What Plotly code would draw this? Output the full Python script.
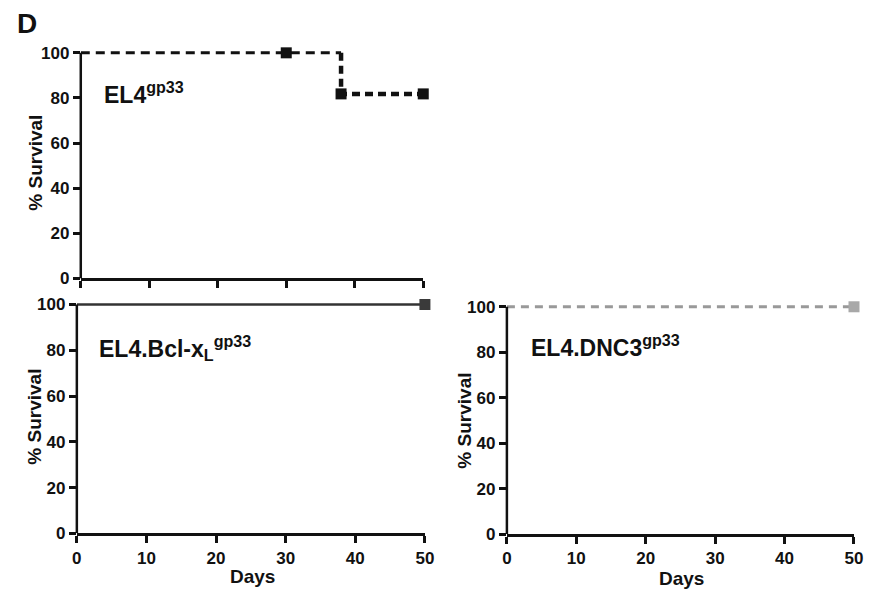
import plotly.graph_objects as go

W, H = 881, 600

# ---- data ----
x_ticks = [0, 10, 20, 30, 40, 50]
y_ticks = [0, 20, 40, 60, 80, 100]

# EL4gp33 Kaplan-Meier curve
el4_days = [0, 30, 38, 38, 50]
el4_surv = [100, 100, 100, 81.8, 81.8]
el4_censor_days = [30, 38, 50]
el4_censor_surv = [100, 81.8, 81.8]

# EL4.Bcl-xL gp33
bcl_days = [0, 50]
bcl_surv = [100, 100]
bcl_censor_days = [50]
bcl_censor_surv = [100]

# EL4.DNC3 gp33
dnc_days = [0, 50]
dnc_surv = [100, 100]
dnc_censor_days = [50]
dnc_censor_surv = [100]

FONT = "Liberation Sans, Arial, sans-serif"
Y_TOP = 102  # small headroom so the 100% lines are not clipped

def px_x(p):  # page pixel -> paper fraction
    return p / W

def px_y(p):
    return 1 - p / H

fig = go.Figure()

# top-left: EL4 -- first part (until drop) dashed, after drop thicker dotted
drop_idx = 3
fig.add_trace(go.Scatter(x=el4_days[:drop_idx], y=el4_surv[:drop_idx], mode="lines",
                         line=dict(color="#111111", width=3, dash="9px,6px"),
                         xaxis="x", yaxis="y", cliponaxis=False, showlegend=False))
fig.add_trace(go.Scatter(x=el4_days[drop_idx - 1:], y=el4_surv[drop_idx - 1:], mode="lines",
                         line=dict(color="#111111", width=4.5, dash="8px,5px"),
                         xaxis="x", yaxis="y", cliponaxis=False, showlegend=False))
fig.add_trace(go.Scatter(x=el4_censor_days, y=el4_censor_surv, mode="markers",
                         marker=dict(symbol="square", size=11, color="#111111"),
                         xaxis="x", yaxis="y", cliponaxis=False, showlegend=False))

# bottom-left: Bcl-xL
fig.add_trace(go.Scatter(x=bcl_days, y=bcl_surv, mode="lines",
                         line=dict(color="#333333", width=2.5),
                         xaxis="x2", yaxis="y2", cliponaxis=False, showlegend=False))
fig.add_trace(go.Scatter(x=bcl_censor_days, y=bcl_censor_surv, mode="markers",
                         marker=dict(symbol="square", size=11, color="#3a3a3a"),
                         xaxis="x2", yaxis="y2", cliponaxis=False, showlegend=False))

# bottom-right: DNC3
fig.add_trace(go.Scatter(x=dnc_days, y=dnc_surv, mode="lines",
                         line=dict(color="#999999", width=3, dash="8px,6px"),
                         xaxis="x3", yaxis="y3", cliponaxis=False, showlegend=False))
fig.add_trace(go.Scatter(x=dnc_censor_days, y=dnc_censor_surv, mode="markers",
                         marker=dict(symbol="square", size=11, color="#a8a8a8"),
                         xaxis="x3", yaxis="y3", cliponaxis=False, showlegend=False))

tickfont = dict(family=FONT, size=17, color="#111111", weight="bold")

def xax(domain, anchor, labels=True):
    return dict(domain=domain, anchor=anchor, range=[0, 50], tickvals=x_ticks,
                showticklabels=labels, ticks="outside", ticklen=7, tickwidth=2.5,
                tickcolor="#111111", showline=True, linewidth=2.5, linecolor="#111111",
                showgrid=False, zeroline=False, tickfont=tickfont, fixedrange=True)

def yax(domain, anchor):
    return dict(domain=domain, anchor=anchor, range=[0, Y_TOP], tickvals=y_ticks,
                ticks="outside", ticklen=7, tickwidth=2.5, tickcolor="#111111",
                showline=False, showgrid=False, zeroline=False, tickfont=tickfont,
                fixedrange=True)

# panel geometry in page pixels: (left, right, y of 100%, y of 0%)
panels = [(77, 425, 50, 281), (73, 426.7, 307.7, 542), (510, 862.7, 310, 542.7)]

def ydom(p100, p0):
    top = p100 - (Y_TOP - 100) * (p0 - p100) / 100
    return [px_y(p0), px_y(top)]

fig.update_layout(
    width=W, height=H,
    margin=dict(l=0, r=0, t=0, b=0),
    paper_bgcolor="white", plot_bgcolor="white",
    xaxis=xax([px_x(panels[0][0]), px_x(panels[0][1])], "y", labels=False),
    yaxis=yax(ydom(panels[0][2], panels[0][3]), "x"),
    xaxis2=xax([px_x(panels[1][0]), px_x(panels[1][1])], "y2"),
    yaxis2=yax(ydom(panels[1][2], panels[1][3]), "x2"),
    xaxis3=xax([px_x(panels[2][0]), px_x(panels[2][1])], "y3"),
    yaxis3=yax(ydom(panels[2][2], panels[2][3]), "x3"),
)

# y axis lines that stop at 100%
for (left, right, p100, p0), yref in zip(panels, ["y", "y2", "y3"]):
    fig.add_shape(type="line", xref="paper", yref=yref,
                  x0=px_x(left), x1=px_x(left), y0=0, y1=100,
                  line=dict(color="#111111", width=2.5), layer="above")

def ann(text, x, y, size, xanchor="center", yanchor="middle", angle=0):
    fig.add_annotation(text=text, x=px_x(x), y=px_y(y), xref="paper", yref="paper",
                       showarrow=False, xanchor=xanchor, yanchor=yanchor, textangle=angle,
                       font=dict(family=FONT, size=size, color="#111111", weight="bold"))

ann("D", 22, 20, 28)
ann("% Survival", 31, 163, 19, angle=-90)
ann("% Survival", 30, 423, 19, angle=-90)
ann("% Survival", 466, 427, 19, angle=-90)
ann("Days", 251, 586, 19)
ann("Days", 687, 588, 19)
ann("EL4<sup>gp33</sup>", 99, 91.5, 23, xanchor="left")
ann("EL4.Bcl-x<sub>L</sub><sup>gp33</sup>", 93, 352, 23, xanchor="left")
ann("EL4.DNC3<sup>gp33</sup>", 532, 350, 23, xanchor="left")

fig.write_html("out.html")
